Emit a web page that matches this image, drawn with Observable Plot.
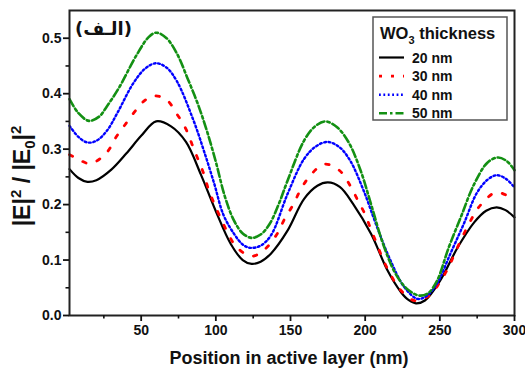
<!DOCTYPE html>
<html>
<head>
<meta charset="utf-8">
<script src="https://cdn.jsdelivr.net/npm/d3@7"></script>
<script src="https://cdn.jsdelivr.net/npm/@observablehq/plot@0.6"></script>
<style>
  html, body { margin: 0; padding: 0; background: #fff; }
  #chart svg { display: block; }
</style>
</head>
<body>
<div id="chart"></div>
<script>
// ---- Data ----
const seriesNames = ["20 nm", "30 nm", "40 nm", "50 nm"];

const pos20 = [2,8,14,20,30,40,50,60,70,80,90,100,110,118,124,130,137,148,159,168,175,183,192,204,215,224,229,234,240,250,262,273,281,288,294,300];
const e20   = [0.264,0.248,0.241,0.244,0.263,0.292,0.324,0.350,0.341,0.313,0.254,0.188,0.129,0.100,0.093,0.097,0.112,0.153,0.210,0.234,0.240,0.232,0.201,0.147,0.081,0.042,0.028,0.022,0.027,0.062,0.123,0.168,0.189,0.195,0.190,0.177];

const pos30 = [2,7,16,27,33,40,47,53,59,67,74,80,84,88,92,95,99,103,108,114,124,133,141,146,152,157,164,173,183,190,195,200,204,208,212,217,223,233,243,250,256,260,265,270,276,285,289,295,300];
const e30   = [0.290,0.283,0.274,0.294,0.321,0.347,0.372,0.389,0.396,0.389,0.363,0.336,0.309,0.282,0.255,0.228,0.201,0.177,0.149,0.123,0.107,0.120,0.147,0.174,0.201,0.228,0.255,0.273,0.261,0.234,0.208,0.182,0.154,0.128,0.101,0.074,0.048,0.027,0.036,0.060,0.088,0.112,0.141,0.168,0.195,0.219,0.222,0.216,0.205];

const pos40 = [2,8,14,20,27,34,45,53,60,67,74,85,92,99,105,112,118,123,130,137,148,159,167,175,183,190,199,208,217,226,235,241,248,257,266,275,282,288,294,300];
const e40   = [0.342,0.322,0.312,0.315,0.333,0.365,0.420,0.446,0.455,0.447,0.422,0.352,0.297,0.237,0.182,0.148,0.128,0.122,0.126,0.145,0.219,0.282,0.305,0.313,0.303,0.279,0.225,0.159,0.099,0.052,0.030,0.035,0.057,0.111,0.165,0.222,0.245,0.253,0.247,0.231];

const pos50 = [2,8,15,22,27,35,47,55,60,67,74,81,88,94,100,106,112,118,124,130,136,142,148,159,166,173,181,189,197,204,212,220,228,236,242,248,256,264,273,282,289,295,300];
const e50   = [0.390,0.365,0.351,0.359,0.377,0.410,0.470,0.502,0.510,0.500,0.472,0.428,0.381,0.333,0.277,0.215,0.172,0.148,0.140,0.146,0.165,0.200,0.243,0.315,0.340,0.350,0.340,0.312,0.261,0.200,0.129,0.077,0.048,0.036,0.040,0.062,0.123,0.177,0.237,0.276,0.285,0.278,0.262];

const xMajor = [50, 100, 150, 200, 250, 300];
const xMinor = [25, 75, 125, 175, 225, 275];
const yMajor = [0.0, 0.1, 0.2, 0.3, 0.4, 0.5];
const yMinor = [0.05, 0.15, 0.25, 0.35, 0.45];

const xLabel = "Position in active layer (nm)";
const legendTitle = ["WO", "3", " thickness"];
const panelTag = "(الـف)";

// ---- Styles ----
const styles = [
  {stroke: "#000000", strokeWidth: 2.2, dash: null},
  {stroke: "#ff0000", strokeWidth: 2.8, dash: "3.5,11.5"},
  {stroke: "#0000ff", strokeWidth: 2.4, dash: "1.8,2.6"},
  {stroke: "#139013", strokeWidth: 2.6, dash: "8,3,2.5,3"}
];

const table = (xs, ys) => xs.map((x, i) => ({x, y: ys[i]}));
const series = [table(pos20, e20), table(pos30, e30), table(pos40, e40), table(pos50, e50)];

const font = "'Liberation Sans', Arial, Helvetica, sans-serif";

const plot = Plot.plot({
  width: 525,
  height: 371,
  marginLeft: 69,
  marginRight: 11,
  marginTop: 10,
  marginBottom: 56,
  style: {fontFamily: font, fontWeight: "bold", fontSize: "14px", background: "#fff", color: "#111"},
  x: {domain: [2, 300]},
  y: {domain: [0, 0.55]},
  marks: [
    ...series.map((d, i) => Plot.line(d, {
      x: "x", y: "y", curve: "catmull-rom",
      stroke: styles[i].stroke, strokeWidth: styles[i].strokeWidth,
      strokeDasharray: styles[i].dash
    })),
    Plot.frame({stroke: "#222", strokeWidth: 2}),
    Plot.axisX({ticks: xMajor, tickSize: 6, tickPadding: 4, tickFormat: d => String(d), label: null, strokeWidth: 1.8, fontSize: 14}),
    Plot.axisX({ticks: xMinor, tickSize: 3.5, tickFormat: () => "", label: null, strokeWidth: 1.6}),
    Plot.axisY({ticks: yMajor, tickSize: 6, tickPadding: 2, tickFormat: d3.format(".1f"), label: null, strokeWidth: 1.8, fontSize: 14}),
    Plot.axisY({ticks: yMinor, tickSize: 3.5, tickFormat: () => "", label: null, strokeWidth: 1.6})
  ]
});

document.getElementById("chart").appendChild(plot);

const svg = d3.select(plot);

// x axis label
svg.append("text")
  .attr("x", 289).attr("y", 364)
  .attr("text-anchor", "middle")
  .attr("font-family", font).attr("font-weight", "bold").attr("font-size", 18)
  .attr("fill", "#111")
  .text(xLabel);

// y axis label: |E|² / |E₀|²
const yl = svg.append("text")
  .attr("transform", "translate(30,176) rotate(-90)")
  .attr("text-anchor", "middle")
  .attr("font-family", font).attr("font-weight", "bold").attr("font-size", 23)
  .attr("fill", "#111");
const parts = [["|E|", 0], ["2", -1], [" / |E", 0], ["0", 1], ["|", 0], ["2", -1]];
let shift = 0;
parts.forEach(([t, s]) => {
  const target = s === -1 ? -9 : s === 1 ? 5 : 0;
  const ts = yl.append("tspan").attr("dy", target - shift).text(t);
  if (s !== 0) ts.attr("font-size", 15);
  shift = target;
});

// panel tag
svg.append("text")
  .attr("x", 75).attr("y", 35)
  .attr("text-anchor", "start")
  .attr("direction", "ltr")
  .attr("font-family", "'DejaVu Sans', sans-serif").attr("font-weight", "bold").attr("font-size", 18)
  .attr("fill", "#111")
  .text(panelTag);

// legend
const lg = svg.append("g").attr("text-anchor", "start");
lg.append("rect").attr("x", 373).attr("y", 17).attr("width", 134).attr("height", 103)
  .attr("fill", "#fff").attr("stroke", "#555").attr("stroke-width", 1.5);
const lt = lg.append("text").attr("x", 380).attr("y", 39)
  .attr("font-family", font).attr("font-weight", "bold").attr("font-size", 16.5).attr("fill", "#111");
lt.append("tspan").text(legendTitle[0]);
lt.append("tspan").attr("dy", 5).attr("font-size", 11).text(legendTitle[1]);
lt.append("tspan").attr("dy", -5).text(legendTitle[2]);
seriesNames.forEach((name, i) => {
  const cy = 57.5 + i * 18.6;
  lg.append("line").attr("x1", 379).attr("x2", 404).attr("y1", cy).attr("y2", cy)
    .attr("stroke", styles[i].stroke).attr("stroke-width", styles[i].strokeWidth)
    .attr("stroke-dasharray", i === 1 ? "3,9" : styles[i].dash);
  lg.append("text").attr("x", 412).attr("y", cy + 5)
    .attr("font-family", font).attr("font-weight", "bold").attr("font-size", 14).attr("fill", "#111")
    .text(name);
});
</script>
</body>
</html>
